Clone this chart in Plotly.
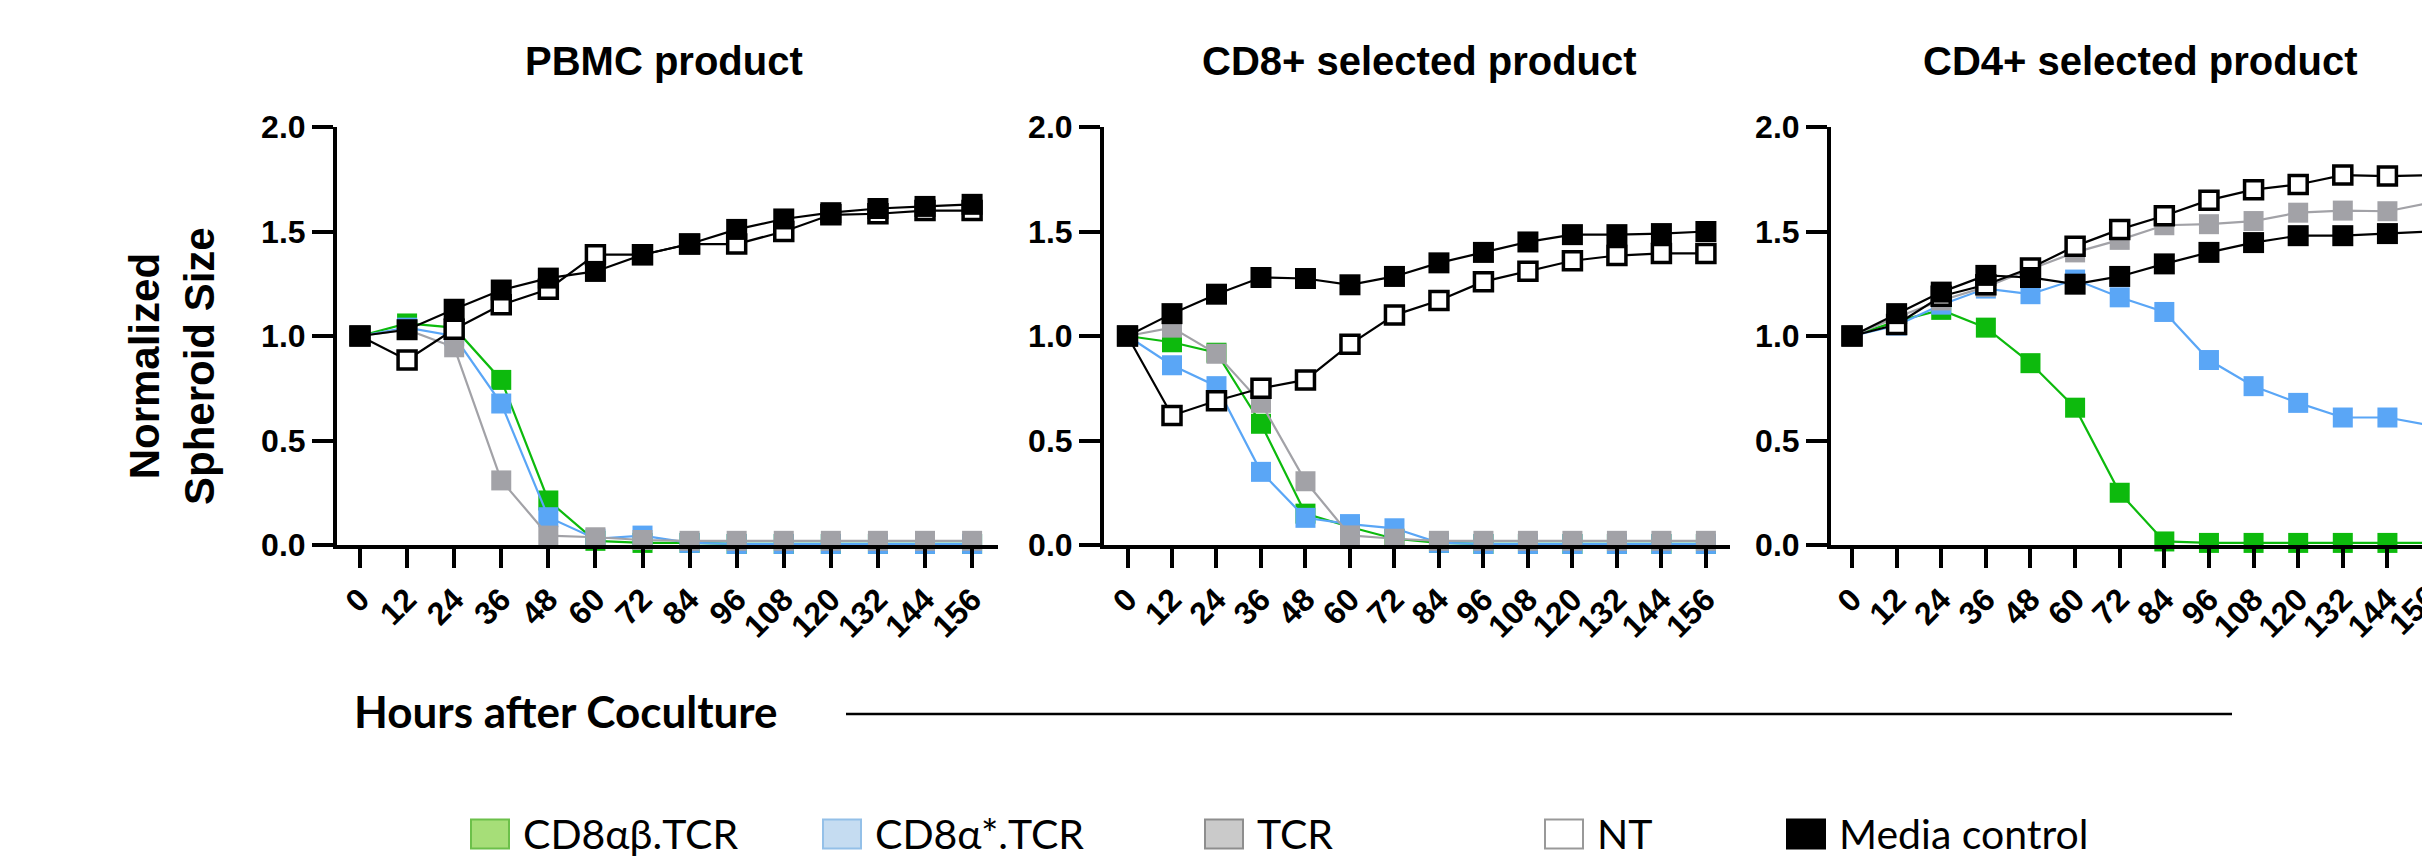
import plotly.graph_objects as go

# ---------------- data ----------------
hours = [0, 12, 24, 36, 48, 60, 72, 84, 96, 108, 120, 132, 144, 156]
tick_labels = [str(h) for h in hours]
y_ticks = [0.0, 0.5, 1.0, 1.5, 2.0]
y_tick_labels = ["0.0", "0.5", "1.0", "1.5", "2.0"]
series_names = ["CD8αβ.TCR", "CD8α*.TCR", "TCR", "NT", "Media control"]
panel_titles = ["PBMC product", "CD8+ selected product", "CD4+ selected product"]
x_title = "Hours after Coculture"
y_title = "Normalized<br>Spheroid Size"

# PBMC product
pbmc_cd8ab = [1.00, 1.06, 1.04, 0.79, 0.213, 0.02, 0.01, 0.01, 0.005, 0.005, 0.005, 0.005, 0.005, 0.005]
pbmc_cd8a = [1.00, 1.04, 1.00, 0.677, 0.133, 0.03, 0.045, 0.01, 0.005, 0.005, 0.005, 0.005, 0.005, 0.005]
pbmc_tcr = [1.00, 1.03, 0.946, 0.309, 0.045, 0.037, 0.024, 0.02, 0.02, 0.02, 0.02, 0.02, 0.02, 0.02]
pbmc_nt = [1.00, 0.885, 1.032, 1.149, 1.224, 1.389, 1.389, 1.44, 1.44, 1.50, 1.58, 1.585, 1.60, 1.60]
pbmc_media = [1.00, 1.03, 1.128, 1.22, 1.277, 1.309, 1.389, 1.44, 1.51, 1.56, 1.59, 1.61, 1.62, 1.63]

# CD8+ selected product
cd8_cd8ab = [1.00, 0.97, 0.92, 0.58, 0.15, 0.086, 0.03, 0.01, 0.005, 0.005, 0.005, 0.005, 0.005, 0.005]
cd8_cd8a = [1.00, 0.86, 0.76, 0.35, 0.13, 0.10, 0.08, 0.01, 0.005, 0.005, 0.005, 0.005, 0.005, 0.005]
cd8_tcr = [1.00, 1.04, 0.915, 0.68, 0.305, 0.046, 0.03, 0.02, 0.02, 0.02, 0.02, 0.02, 0.02, 0.02]
cd8_nt = [1.00, 0.62, 0.69, 0.75, 0.79, 0.96, 1.10, 1.17, 1.26, 1.31, 1.36, 1.385, 1.395, 1.395]
cd8_media = [1.00, 1.107, 1.20, 1.28, 1.275, 1.245, 1.285, 1.35, 1.40, 1.45, 1.485, 1.485, 1.49, 1.50]

# CD4+ selected product
cd4_cd8ab = [1.00, 1.07, 1.125, 1.04, 0.87, 0.657, 0.25, 0.017, 0.01, 0.01, 0.01, 0.01, 0.01, 0.01]
cd4_cd8a = [1.00, 1.05, 1.15, 1.227, 1.20, 1.27, 1.185, 1.115, 0.885, 0.76, 0.68, 0.61, 0.61, 0.57]
cd4_tcr = [1.00, 1.09, 1.17, 1.235, 1.32, 1.40, 1.46, 1.53, 1.535, 1.55, 1.59, 1.60, 1.597, 1.64]
cd4_nt = [1.00, 1.055, 1.19, 1.245, 1.325, 1.43, 1.51, 1.575, 1.65, 1.70, 1.725, 1.77, 1.765, 1.77]
cd4_media = [1.00, 1.107, 1.21, 1.29, 1.28, 1.248, 1.285, 1.345, 1.40, 1.447, 1.48, 1.48, 1.49, 1.50]

panels = [
    [pbmc_cd8ab, pbmc_cd8a, pbmc_tcr, pbmc_nt, pbmc_media],
    [cd8_cd8ab, cd8_cd8a, cd8_tcr, cd8_nt, cd8_media],
    [cd4_cd8ab, cd4_cd8a, cd4_tcr, cd4_nt, cd4_media],
]

# ---------------- styles ----------------
W, H = 2422, 859
line_colors = ["#0DBA0D", "#5AA6F6", "#A2A2A7", "#000000", "#000000"]
marker_fill = ["#0DBA0D", "#5AA6F6", "#A2A2A7", "#FFFFFF", "#000000"]
marker_edge = ["#0DBA0D", "#5AA6F6", "#A2A2A7", "#000000", "#000000"]
marker_edge_w = [0, 0, 0, 3.5, 0]
marker_size = [20, 20, 20, 18, 21]
swatch_fill = ["#A6DE78", "#C5DCF1", "#CACACA", "#FFFFFF", "#000000"]
swatch_edge = ["#6CC04A", "#94C0E8", "#8E8E8E", "#999999", "#000000"]

# pixel layout
x_domains_px = [(337, 998), (1104, 1730), (1831, 2422)]
x_ranges = [(-5.86, 162.6), (-6.34, 162.5), (-5.65, 153.3)]
y_top_px, y_bot_px = 127, 545
title_centers_px = [664, 1419, 2140]
title_y_px = 61
bold_font = "Liberation Sans, Arial, sans-serif"
calibri_like = "Lato, Carlito, sans-serif"


def fx(p):
    return p / W


def fy(p):
    return 1 - p / H


def data_to_paper_x(panel, value):
    d0, d1 = x_domains_px[panel]
    r0, r1 = x_ranges[panel]
    return fx(d0 + (value - r0) / (r1 - r0) * (d1 - d0))


fig = go.Figure()

for pi, series in enumerate(panels):
    xa = "x" if pi == 0 else f"x{pi + 1}"
    ya = "y" if pi == 0 else f"y{pi + 1}"
    for si, vals in enumerate(series):
        fig.add_trace(go.Scatter(
            x=hours, y=vals, xaxis=xa, yaxis=ya,
            mode="lines+markers", name=series_names[si], showlegend=False,
            cliponaxis=False,
            line=dict(color=line_colors[si], width=2.2),
            marker=dict(symbol="square", size=marker_size[si], color=marker_fill[si],
                        line=dict(color=marker_edge[si], width=marker_edge_w[si])),
        ))

tick_font = dict(family=bold_font, size=32, color="black", weight="bold")
common_axis = dict(showline=True, linecolor="black", linewidth=4, ticks="outside",
                   tickwidth=4, tickcolor="black", showgrid=False, automargin=False,
                   zeroline=False, tickfont=tick_font, fixedrange=True)

layout_axes = {}
for pi in range(3):
    xk = "xaxis" if pi == 0 else f"xaxis{pi + 1}"
    yk = "yaxis" if pi == 0 else f"yaxis{pi + 1}"
    xa = "x" if pi == 0 else f"x{pi + 1}"
    ya = "y" if pi == 0 else f"y{pi + 1}"
    d0, d1 = x_domains_px[pi]
    layout_axes[xk] = dict(common_axis, domain=[fx(d0), fx(d1)], range=list(x_ranges[pi]),
                           tickvals=hours, ticktext=tick_labels, tickangle=-45, anchor=ya,
                           ticklen=19)
    layout_axes[yk] = dict(common_axis, domain=[fy(y_bot_px), fy(y_top_px)], range=[0, 2],
                           tickvals=y_ticks, ticktext=y_tick_labels, anchor=xa, ticklen=21)

annotations = []
for pi, t in enumerate(panel_titles):
    annotations.append(dict(text=f"<b>{t}</b>", x=fx(title_centers_px[pi]), y=fy(title_y_px),
                            xref="paper", yref="paper", showarrow=False, xanchor="center",
                            yanchor="middle", font=dict(family=bold_font, size=40, color="black")))

# last tick label of the third panel, which runs past the page edge in the reference
annotations.append(dict(text=f"<b>{tick_labels[-1]}</b>", x=data_to_paper_x(2, hours[-1]), y=0,
                        xref="paper", yref="y3", showarrow=False, textangle=-45,
                        xanchor="right", yanchor="top", xshift=16, yshift=-31,
                        font=dict(family=bold_font, size=32, color="black")))

# y title
annotations.append(dict(text=f"<b>{y_title}</b>", x=fx(172), y=fy(366), xref="paper", yref="paper",
                        showarrow=False, textangle=-90, xanchor="center", yanchor="middle",
                        font=dict(family=bold_font, size=42, color="black")))

# x title
annotations.append(dict(text=f"<b>{x_title}</b>", x=fx(352), y=fy(711), xref="paper", yref="paper",
                        showarrow=False, xanchor="left", yanchor="middle",
                        font=dict(family=calibri_like, size=44, color="black")))

shapes = [dict(type="line", xref="paper", yref="paper", x0=fx(846), x1=fx(2232),
               y0=fy(714), y1=fy(714), line=dict(color="black", width=2.5))]

# legend (drawn manually to match the large swatches)
swatch_left_px = [471, 823, 1205, 1545, 1787]
sw_w, sw_h = 38, 29
leg_cy = 834
for i, name in enumerate(series_names):
    shapes.append(dict(type="rect", xref="paper", yref="paper",
                       x0=fx(swatch_left_px[i]), x1=fx(swatch_left_px[i] + sw_w),
                       y0=fy(leg_cy + sw_h / 2), y1=fy(leg_cy - sw_h / 2),
                       fillcolor=swatch_fill[i], line=dict(color=swatch_edge[i], width=2)))
    annotations.append(dict(text=name, x=fx(swatch_left_px[i] + sw_w + 12), y=fy(leg_cy - 1),
                            xref="paper", yref="paper", showarrow=False, xanchor="left",
                            yanchor="middle", font=dict(family=calibri_like, size=41, color="black")))

fig.update_layout(
    width=W, height=H, margin=dict(l=0, r=0, t=0, b=0, pad=0, autoexpand=False),
    paper_bgcolor="white", plot_bgcolor="white", showlegend=False,
    annotations=annotations, shapes=shapes, **layout_axes,
)

fig.write_html(
    "out.html",
    config={"displayModeBar": False},
    post_script="document.body.style.margin='0px';document.body.style.overflow='hidden';",
)
